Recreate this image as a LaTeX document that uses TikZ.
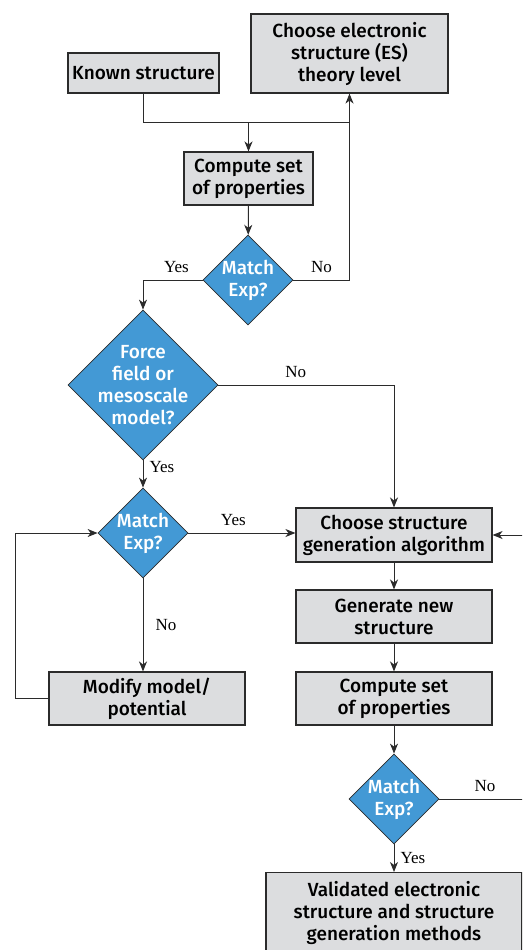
\documentclass[tikz,border=0pt]{standalone}
\usepackage{fontspec}
\setmainfont{Liberation Serif}
\setsansfont{Fira Sans Medium}
\usetikzlibrary{arrows.meta,shapes.geometric}
\definecolor{boxgray}{HTML}{DCDDDF}
\definecolor{decblue}{HTML}{4399D5}
\definecolor{linegray}{HTML}{2B2B2B}
\tikzset{every picture/.style={
  >={Stealth[length=10pt,width=8pt,inset=3pt]} % Notched arrow heads.
  }
}

\begin{document}
\begin{tikzpicture}[
    x=1pt, y=-1pt,
    box/.style={
      draw=linegray,
      line width=1.1pt,
      fill=boxgray,
      align=center,
      inner sep=0pt,
      minimum width=196pt,
      minimum height=53pt,
      font=\sffamily\fontsize{19}{22}\selectfont
    },
    dec/.style={
      diamond,
      draw=linegray,
      line width=0.8pt,
      fill=decblue,
      text=white,
      align=center,
      inner sep=-6pt,
      minimum width=90pt,
      minimum height=90pt,
      font=\sffamily\fontsize{19}{22}\selectfont
    },
    lbl/.style={
      font=\rmfamily\fontsize{17}{17}\selectfont,
      inner sep=0pt
    },
    flow/.style={->, draw=linegray, line width=1pt}]

    % Page frame, the right border cuts the feedback line.
    \useasboundingbox (0,0) rectangle (522,950);
    \clip (0,0) rectangle (522,950);

    % Upper part: the electronic structure loop.
    \node[box,minimum width=151pt,minimum height=40pt] (known)
      at (143.5,73) {Known structure};
    \node[box,minimum width=197pt,minimum height=79pt] (es)
      at (349.5,53.5) {Choose electronic\\structure (ES)\\theory level};
    \node[box,minimum width=129pt] (cmpa)
      at (248.5,178.5) {Compute set\\of properties};
    \node[dec] (matcha) at (248,280) {Match\\Exp?};

    % Left part: the model loop.
    \node[dec,minimum width=150pt,minimum height=150pt,inner sep=-9pt] (ff)
      at (143,385) {Force\\field or\\mesoscale\\model?};
    \node[dec] (matchb) at (143,533) {Match\\Exp?};
    \node[box] (modify) at (147,698.5) {Modify model/\\potential};

    % Right part: the structure generation loop.
    \node[box,minimum height=54pt] (algo)
      at (394,535) {Choose structure\\generation algorithm};
    \node[box] (gen) at (394,616.5) {Generate new\\structure};
    \node[box] (cmpb) at (394,698.5) {Compute set\\of properties};
    \node[dec] (matchc) at (394,799) {Match\\Exp?};
    \node[box,minimum width=256pt,minimum height=80pt,anchor=north] (valid)
      at (394,872) {Validated electronic\\structure and structure\\generation methods};

    % Helper points.
    \coordinate (merge) at (349,122);
    \coordinate (loop) at (15,533);

    % Connectors.
    \draw[flow,-] (known.south) |- (merge);
    \draw[flow] (cmpa.north |- merge) -- (cmpa.north);
    \draw[flow] (cmpa) -- (matcha);
    \draw[flow] (matcha.east) -| (es.south)
      node[lbl,pos=0.25,above=7pt] {No};
    \draw[flow] (matcha.west) -| (ff.north)
      node[lbl,pos=0.22,above=7pt] {Yes};
    \draw[flow] (ff.east) -| (algo.north)
      node[lbl,pos=0.22,above=7pt] {No};
    \draw[flow] (ff.south) -- (matchb.north)
      node[lbl,pos=0.25,right=6pt] {Yes};
    \draw[flow] (matchb.east) -- (matchb.east -| algo.west)
      node[lbl,pos=0.42,above=7pt] {Yes};
    \draw[flow] (matchb.south) -- (matchb.south |- modify.north)
      node[lbl,midway,right=12pt] {No};
    \draw[flow] (modify.west) -| (loop) -- (matchb.west);
    \draw[flow] (algo) -- (gen);
    \draw[flow] (gen) -- (cmpb);
    \draw[flow] (cmpb) -- (matchc);
    \draw[flow] (matchc) -- (valid)
      node[lbl,midway,right=6pt] {Yes};
    \draw[flow] (matchc.east) -- node[lbl,above=7pt] {No} ++(91,0)
      |- (algo.east);
  \end{tikzpicture}
\end{document}
